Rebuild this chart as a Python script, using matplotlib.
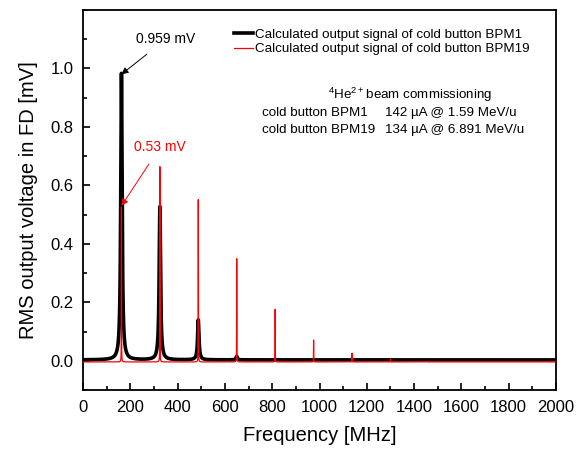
import numpy as np
import matplotlib
matplotlib.use("Agg")
import matplotlib.pyplot as plt
from matplotlib.ticker import MultipleLocator

plt.rcParams['font.family'] = ['Liberation Sans', 'DejaVu Sans']
plt.rcParams['mathtext.fontset'] = 'custom'
plt.rcParams['mathtext.rm'] = 'Liberation Sans'

# Harmonic frequencies (MHz) and peak RMS amplitudes (mV)
freq_bpm1 = [162.5, 325.0, 487.5, 650.0]
amp_bpm1 = [0.98, 0.524, 0.137, 0.012]
freq_bpm19 = [162.5, 325.0, 487.5, 650.0, 812.5, 975.0, 1137.5, 1300.0, 1462.5]
amp_bpm19 = [0.53, 0.668, 0.555, 0.353, 0.180, 0.075, 0.030, 0.010, 0.003]

x_ticks = list(range(0, 2001, 200))
y_ticks = [0.0, 0.2, 0.4, 0.6, 0.8, 1.0]

f = np.arange(0, 2000.0001, 0.25)

def line_spectrum(freqs, amps, width):
    s = np.zeros_like(f)
    for f0, a in zip(freqs, amps):
        s += a * width**2 / ((f - f0)**2 + width**2)
    return s

s1 = line_spectrum(freq_bpm1, amp_bpm1, 3.5) + 0.003
s19 = line_spectrum(freq_bpm19, amp_bpm19, 0.35) - 0.004

fig = plt.figure(figsize=(5.78, 4.49), dpi=100)
ax = fig.add_axes([83/578, 1-390/449, (556-83)/578, (390-10)/449])

ax.plot(f, s1, color='black', lw=2.6, label='Calculated output signal of cold button BPM1', zorder=2)
ax.plot(f, s19, color='red', lw=0.9, label='Calculated output signal of cold button BPM19', zorder=3)

ax.set_xlim(0, 2000)
ax.set_ylim(-0.1, 1.2)
ax.set_xticks(x_ticks)
ax.set_yticks(y_ticks)
ax.xaxis.set_minor_locator(MultipleLocator(100))
ax.yaxis.set_minor_locator(MultipleLocator(0.1))
ax.set_yticklabels([f"{v:.1f}" for v in y_ticks])
ax.tick_params(which='both', direction='in', top=False, right=False, labelsize=12, width=1.2)
ax.tick_params(axis='x', which='major', pad=7)
ax.tick_params(axis='y', which='major', pad=7)
ax.tick_params(which='major', length=5)
ax.tick_params(which='minor', length=3)
for sp in ax.spines.values():
    sp.set_linewidth(1.3)

ax.set_xlabel('Frequency [MHz]', fontsize=14.5, labelpad=8)
ax.set_ylabel('RMS output voltage in FD [mV]', fontsize=14.5, labelpad=9)

leg = ax.legend(loc='upper left', bbox_to_anchor=(0.3, 0.975), frameon=False, fontsize=9.6,
                handlelength=1.4, handletextpad=0.15, labelspacing=0.15, borderaxespad=0.3)

ax.annotate('0.959 mV', xy=(freq_bpm1[0], amp_bpm1[0]), xytext=(350, 1.10),
            ha='center', va='center', fontsize=10,
            arrowprops=dict(arrowstyle='-|>', color='black', lw=0.7, shrinkA=6, shrinkB=0,
                            mutation_scale=10))
ax.annotate('0.53 mV', xy=(freq_bpm19[0], amp_bpm19[0]), xytext=(325, 0.73),
            ha='center', va='center', fontsize=10, color='red',
            arrowprops=dict(arrowstyle='-|>', color='red', lw=0.7, shrinkA=6, shrinkB=0,
                            mutation_scale=10))

fs = 9.6
ax.text(1383, 0.908, r'$^{4}$He$^{2+}$beam commissioning', ha='center', va='center', fontsize=fs)
ax.text(757, 0.846, 'cold button BPM1', ha='left', va='center', fontsize=fs)
ax.text(1277, 0.846, '142 \u00b5A @ 1.59 MeV/u', ha='left', va='center', fontsize=fs)
ax.text(757, 0.788, 'cold button BPM19', ha='left', va='center', fontsize=fs)
ax.text(1277, 0.788, '134 \u00b5A @ 6.891 MeV/u', ha='left', va='center', fontsize=fs)

fig.savefig('out.png', dpi=100)
